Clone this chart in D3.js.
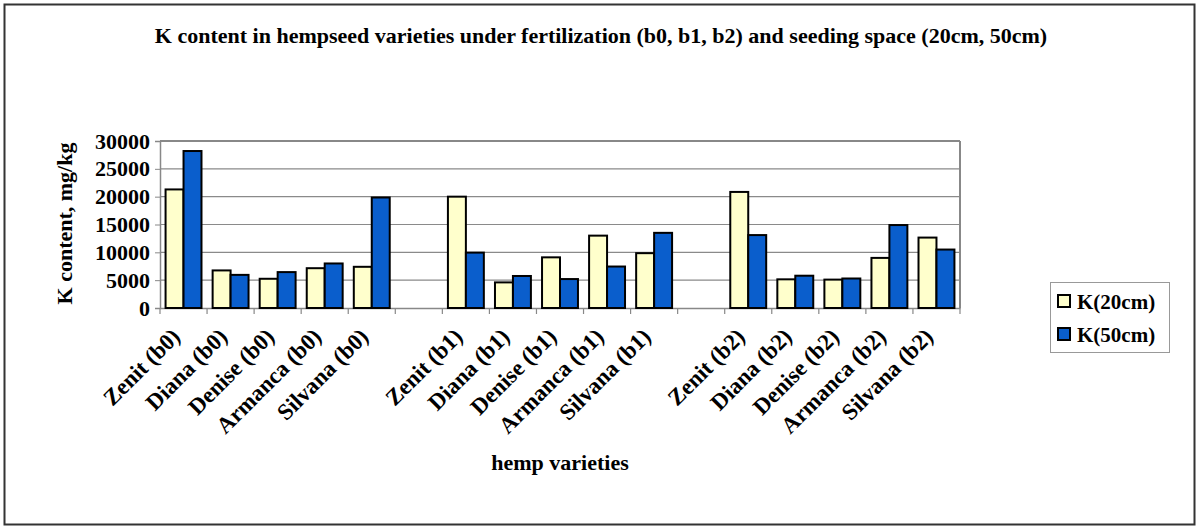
<!DOCTYPE html>
<html>
<head>
<meta charset="utf-8">
<script src="https://cdn.jsdelivr.net/npm/d3@7/dist/d3.min.js"></script>
<style>
  html, body { margin: 0; padding: 0; background: #fff; }
  svg { display: block; }
  text { font-family: "Liberation Serif", "Times New Roman", serif; font-weight: bold; fill: #000; }
</style>
</head>
<body>
<svg id="chart" width="1200" height="530"></svg>
<script>
// ---- data ----
const categories = [
  "Zenit (b0)", "Diana (b0)", "Denise (b0)", "Armanca (b0)", "Silvana (b0)", "",
  "Zenit (b1)", "Diana (b1)", "Denise (b1)", "Armanca (b1)", "Silvana (b1)", " ",
  "Zenit (b2)", "Diana (b2)", "Denise (b2)", "Armanca (b2)", "Silvana (b2)"
];
const seriesNames = ["K(20cm)", "K(50cm)"];
const k20 = [21300, 6750, 5250, 7150, 7400, null, 20000, 4600, 9100, 13000, 9850, null, 20850, 5150, 5100, 9000, 12650];
const k50 = [28200, 5950, 6450, 8000, 19850, null, 9950, 5750, 5200, 7450, 13500, null, 13100, 5800, 5300, 14900, 10500];
const yTicks = [0, 5000, 10000, 15000, 20000, 25000, 30000];
const colors = ["#FFFFCC", "#0A5ECC"];
const title = "K content in hempseed varieties under fertilization (b0, b1, b2) and seeding space (20cm, 50cm)";
const yTitle = "K content, mg/kg";
const xTitle = "hemp varieties";

// ---- layout ----
const svg = d3.select("#chart");
const L = 160, R = 960, T = 141, B = 308;

// outer border
svg.append("rect").attr("x", 4.5).attr("y", 4.5).attr("width", 1190).attr("height", 520)
  .attr("fill", "#fff").attr("stroke", "#333").attr("stroke-width", 2);

const x = d3.scaleBand().domain(categories).range([L, R]).paddingInner(0).paddingOuter(0);
const y = d3.scaleLinear().domain([0, 30000]).range([B, T]);
const inner = d3.scaleBand().domain(seriesNames).range([0, x.bandwidth()]).paddingInner(0).paddingOuter(0.31);

// gridlines
svg.append("g").selectAll("line").data(yTicks.filter(d => d > 0)).join("line")
  .attr("x1", L).attr("x2", R).attr("y1", d => y(d)).attr("y2", d => y(d))
  .attr("stroke", "#8a8a8a").attr("stroke-width", 1.2);

// plot border (top & right)
svg.append("line").attr("x1", L).attr("x2", R).attr("y1", T).attr("y2", T).attr("stroke", "#888").attr("stroke-width", 2);
svg.append("line").attr("x1", R).attr("x2", R).attr("y1", T).attr("y2", B).attr("stroke", "#888").attr("stroke-width", 2);

// y axis
const yAxis = svg.append("g").attr("transform", `translate(${L},0)`)
  .call(d3.axisLeft(y).tickValues(yTicks).tickSize(5).tickPadding(5).tickFormat(d3.format("d")));
yAxis.select(".domain").attr("stroke", "#888").attr("stroke-width", 1.5);
yAxis.selectAll(".tick line").attr("stroke", "#888");
yAxis.selectAll("text").attr("font-size", 22).attr("font-family", "Liberation Serif").attr("font-weight", "bold").attr("fill", "#000");

// x axis
const xAxis = svg.append("g").attr("transform", `translate(0,${B})`)
  .call(d3.axisBottom(x).tickSize(0).tickFormat(""));
xAxis.select(".domain").attr("stroke", "#888").attr("stroke-width", 1.5);
// boundary ticks
const bounds = d3.range(categories.length + 1).map(i => L + i * x.bandwidth());
svg.append("g").selectAll("line").data(bounds).join("line")
  .attr("x1", d => d).attr("x2", d => d).attr("y1", B).attr("y2", B + 6)
  .attr("stroke", "#888").attr("stroke-width", 1.2);

// bars
const rows = categories.map((c, i) => ({ c, vals: [k20[i], k50[i]] }));
const groups = svg.append("g").selectAll("g").data(rows).join("g")
  .attr("transform", d => `translate(${x(d.c)},0)`);
groups.selectAll("rect").data(d => d.vals.map((v, j) => ({ v, s: seriesNames[j], j })).filter(e => e.v != null))
  .join("rect")
  .attr("x", e => inner(e.s)).attr("width", inner.bandwidth())
  .attr("y", e => y(e.v)).attr("height", e => B - y(e.v))
  .attr("fill", e => colors[e.j]).attr("stroke", "#000").attr("stroke-width", 2);

// x labels
svg.append("g").selectAll("text").data(categories.filter(c => c.trim() !== "")).join("text")
  .attr("text-anchor", "end")
  .attr("font-size", 23)
  .attr("transform", c => `translate(${x(c) + x.bandwidth() / 2 - 2},${B + 30}) rotate(-45)`)
  .text(c => c);

// titles
svg.append("text").attr("x", 601).attr("y", 43).attr("text-anchor", "middle").attr("font-size", 22).text(title);
svg.append("text").attr("transform", `translate(72,${(T + B) / 2 - 1}) rotate(-90)`).attr("text-anchor", "middle")
  .attr("font-size", 22).text(yTitle);
svg.append("text").attr("x", (L + R) / 2).attr("y", 470).attr("text-anchor", "middle").attr("font-size", 22).text(xTitle);

// legend
const lg = svg.append("g");
lg.append("rect").attr("x", 1050.5).attr("y", 282.5).attr("width", 119).attr("height", 70)
  .attr("fill", "#fff").attr("stroke", "#999").attr("stroke-width", 1);
seriesNames.forEach((s, i) => {
  lg.append("rect").attr("x", 1058).attr("y", 295 + i * 33).attr("width", 12).attr("height", 12)
    .attr("fill", colors[i]).attr("stroke", "#000").attr("stroke-width", 2);
  lg.append("text").attr("x", 1077).attr("y", 309 + i * 33).attr("font-size", 21).text(s);
});
</script>
</body>
</html>
